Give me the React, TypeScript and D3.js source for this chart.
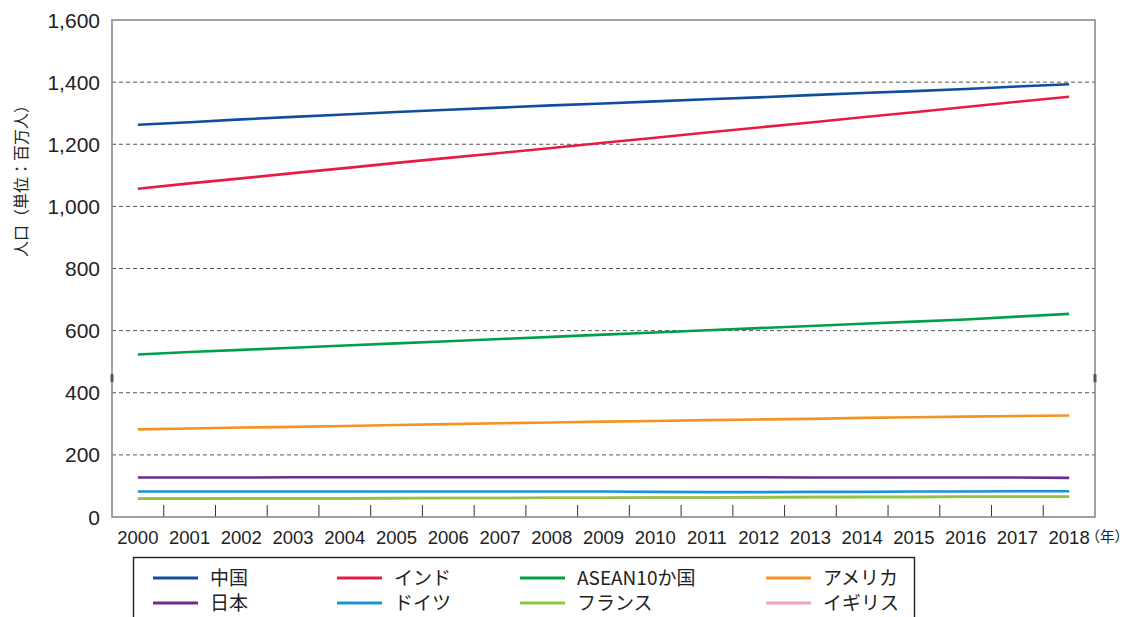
import * as d3 from "d3";

const YEARS = d3.range(2000, 2019).map(String);

const CHINA = [1263, 1271, 1280, 1288, 1296, 1304, 1311, 1318, 1325, 1331, 1338, 1345, 1351, 1358, 1365, 1371, 1378, 1386, 1393];
const INDIA = [1057, 1074, 1090, 1107, 1123, 1140, 1156, 1172, 1188, 1205, 1221, 1238, 1254, 1270, 1287, 1303, 1320, 1337, 1353];
const ASEAN = [523, 531, 538, 545, 552, 559, 566, 573, 580, 587, 594, 601, 608, 615, 622, 629, 636, 645, 654];
const USA = [282, 285, 288, 290, 293, 296, 299, 302, 304, 307, 309, 312, 314, 316, 319, 321, 323, 325, 327];
const JAPAN = [127, 127, 127, 128, 128, 128, 128, 128, 128, 128, 128, 128, 128, 127, 127, 127, 127, 127, 126];
const GERMANY = [82, 82, 82, 82, 82, 82, 82, 82, 82, 82, 81, 80, 80, 81, 81, 82, 82, 83, 83];
const FRANCE = [59, 59, 60, 60, 60, 61, 61, 61, 62, 62, 63, 63, 63, 64, 64, 64, 65, 65, 65];
const UK = [59, 59, 59, 60, 60, 60, 61, 61, 62, 62, 63, 63, 64, 64, 65, 65, 66, 66, 66];

const Y_TICKS = [0, 200, 400, 600, 800, 1000, 1200, 1400, 1600];

// drawn back to front: UK at the bottom of the stack
const SERIES = [
    { name: "中国", values: CHINA, color: "#0f4e9b" },
    { name: "インド", values: INDIA, color: "#e71c45" },
    { name: "ASEAN10か国", values: ASEAN, color: "#00a04a" },
    { name: "アメリカ", values: USA, color: "#f39322" },
    { name: "日本", values: JAPAN, color: "#682d8f" },
    { name: "ドイツ", values: GERMANY, color: "#1b92d6" },
    { name: "フランス", values: FRANCE, color: "#8cc540" },
    { name: "イギリス", values: UK, color: "#f2a3c2" },
];

const W = 1132;
const H = 617;
const M = { left: 112, right: 1095, top: 20, bottom: 517 };
const FONT = "'Liberation Sans', Arial, sans-serif";
const JP = "'Noto Sans CJK JP', 'Liberation Sans', sans-serif";

const LEGEND_COLS = [153, 337, 520, 766];
const LEGEND_ROWS = [578, 603];

export default function App() {
    const x = d3.scaleBand().domain(YEARS).range([M.left, M.right]);
    const y = d3.scaleLinear().domain([0, 1600]).range([M.bottom, M.top]);
    const cx = (yr: string) => (x(yr) ?? 0) + x.bandwidth() / 2;

    const line = d3
        .line<number>()
        .x((_, i) => cx(YEARS[i]))
        .y((d) => y(d));

    const drawOrder = [...SERIES].reverse();

    return (
        <div style={{ position: "absolute", left: 0, top: 0 }}>
            <svg width={W} height={H} style={{ display: "block", background: "#fff" }}>
                {/* gridlines */}
                {Y_TICKS.filter((t) => t > 0 && t < 1600).map((t) => (
                    <line key={t} x1={M.left} x2={M.right} y1={y(t)} y2={y(t)} stroke="#555" strokeWidth={1} strokeDasharray="4,3" />
                ))}

                {/* x ticks at band edges */}
                {YEARS.slice(1).map((yr) => (
                    <line key={yr} x1={x(yr)} x2={x(yr)} y1={M.bottom} y2={M.bottom - 12} stroke="#333" strokeWidth={1} />
                ))}

                {/* frame */}
                <rect x={M.left} y={M.top} width={M.right - M.left} height={M.bottom - M.top} fill="none" stroke="#8a8a8a" strokeWidth={1.6} />
                <rect x={M.left - 1.5} y={y(460)} width={3} height={8} fill="#555" />
                <rect x={M.right - 1.5} y={y(460)} width={3} height={8} fill="#555" />

                {/* y labels */}
                {Y_TICKS.map((t) => (
                    <text key={t} x={100} y={y(t)} dy="0.36em" textAnchor="end" fontFamily={FONT} fontSize={21} fill="#222">
                        {d3.format(",")(t)}
                    </text>
                ))}

                {/* x labels */}
                {YEARS.map((yr) => (
                    <text key={yr} x={cx(yr)} y={537} dy="0.36em" textAnchor="middle" fontFamily={FONT} fontSize={18.5} fill="#222">
                        {yr}
                    </text>
                ))}
                <text x={1129} y={537} dy="0.36em" textAnchor="end" fontFamily={JP} fontSize={14.5} fill="#222">
                    （年）
                </text>

                <text transform={`translate(27,177) rotate(-90)`} textAnchor="middle" fontFamily={JP} fontSize={16} fill="#222">
                    人口（単位：百万人）
                </text>

                {/* series */}
                {drawOrder.map((s) => (
                    <path key={s.name} d={line(s.values) ?? ""} fill="none" stroke={s.color} strokeWidth={2.6} />
                ))}

                {/* legend */}
                <rect x={133.5} y={557.5} width={781} height={80} fill="#fff" stroke="#222" strokeWidth={1.4} />
                {SERIES.map((s, i) => {
                    const lx = LEGEND_COLS[i % 4];
                    const ly = LEGEND_ROWS[Math.floor(i / 4)];
                    return (
                        <g key={s.name}>
                            <line x1={lx} x2={lx + 45} y1={ly} y2={ly} stroke={s.color} strokeWidth={3} />
                            <text x={lx + 57} y={ly} dy="0.36em" fontFamily={JP} fontSize={19} fill="#222">
                                {s.name}
                            </text>
                        </g>
                    );
                })}
            </svg>
        </div>
    );
}
